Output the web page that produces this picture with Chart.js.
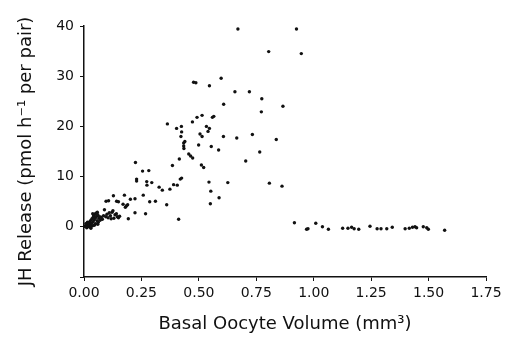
<!DOCTYPE html>
<html>
<head>
<meta charset="utf-8">
<script src="https://cdn.jsdelivr.net/npm/chart.js@4"></script>
<style>
  html, body { margin: 0; padding: 0; background: #fff; }
  #wrap { width: 508px; height: 337px; }
</style>
</head>
<body>
<div id="wrap"><canvas id="chart" width="508" height="337"></canvas></div>
<script>
// Basal oocyte volume (mm3) vs JH release
const volume = [
    // dense cluster near origin
    0.005, 0.010, 0.012, 0.015, 0.018, 0.020, 0.022, 0.025, 0.027, 0.030, 0.030, 0.033, 0.035, 0.037,
    0.040, 0.040, 0.042, 0.045, 0.047, 0.050, 0.050, 0.052, 0.055, 0.057, 0.060, 0.062, 0.065, 0.068,
    0.070, 0.075, 0.080, 0.085, 0.010, 0.020, 0.030, 0.015, 0.045, 0.060, 0.008, 0.038, 0.058,
    // low rising part
    0.089, 0.095, 0.100, 0.105, 0.110, 0.115, 0.118, 0.122, 0.126, 0.130, 0.135, 0.141, 0.145, 0.150, 0.155,
    0.096, 0.107, 0.128, 0.142, 0.150, 0.176, 0.170, 0.180, 0.185, 0.190, 0.193, 0.202, 0.222, 0.222, 0.224,
    0.229, 0.229, 0.255, 0.258, 0.268, 0.273, 0.274, 0.282, 0.286, 0.295, 0.311, 0.327, 0.341, 0.360,
    0.363, 0.374, 0.385, 0.390, 0.403, 0.406, 0.412, 0.415, 0.419, 0.422, 0.424, 0.425, 0.425,
    0.434, 0.434, 0.435, 0.439, 0.456, 0.464, 0.473, 0.472, 0.477, 0.487, 0.492, 0.499, 0.505,
    0.511, 0.514, 0.514, 0.521, 0.533, 0.540, 0.544, 0.546, 0.546, 0.550, 0.552, 0.554, 0.559, 0.565,
    0.586, 0.588, 0.597, 0.607, 0.608, 0.626, 0.657, 0.665, 0.670, 0.704, 0.720, 0.733, 0.765,
    0.772, 0.774, 0.804, 0.807, 0.837, 0.862, 0.866, 0.925, 0.946,
    // flat tail
    0.916, 0.969, 0.975, 1.009, 1.038, 1.064, 1.126, 1.149, 1.165, 1.176, 1.196, 1.245, 1.276, 1.293,
    1.318, 1.342, 1.398, 1.416, 1.430, 1.441, 1.448, 1.477, 1.492, 1.499, 1.570
];
const jhRelease = [
    0.1, 0.3, -0.2, 0.5, 0.2, 0.8, 0.0, 1.0, 0.4, 1.3, -0.3, 0.7, 1.6, 0.2,
    1.9, 1.0, 2.2, 1.4, 2.5, 0.6, 1.8, 2.7, 2.1, 1.2, 2.4, 0.9, 1.7, 2.0,
    1.3, 1.9, 1.5, 2.2, 0.0, 0.4, 0.0, 0.9, 0.3, 0.5, 0.6, 2.6, 2.9,
    3.4, 2.0, 2.5, 1.8, 2.8, 2.2, 1.6, 2.9, 3.2, 1.7, 2.4, 2.6, 2.0, 1.8, 2.1,
    5.1, 5.2, 6.2, 5.1, 5.0, 6.3, 4.5, 3.9, 4.2, 4.4, 1.6, 5.5, 5.6, 2.8, 12.8,
    9.5, 9.1, 11.1, 6.3, 2.6, 9.0, 8.3, 11.2, 5.0, 8.8, 5.1, 7.9, 7.3, 4.4,
    20.5, 7.5, 12.2, 8.4, 19.6, 8.3, 1.5, 13.5, 9.5, 18.0, 20.0, 18.9, 9.7,
    16.7, 16.1, 15.6, 17.0, 14.5, 14.1, 13.7, 20.9, 28.8, 28.7, 21.8, 16.3, 18.5,
    12.3, 22.2, 18.0, 11.8, 20.0, 19.0, 8.9, 19.6, 28.1, 4.6, 7.1, 16.0, 21.8, 22.0,
    15.3, 5.8, 29.6, 18.0, 24.4, 8.8, 26.9, 17.7, 39.4, 13.1, 26.9, 18.4, 14.9,
    22.9, 25.5, 34.9, 8.7, 17.4, 8.1, 24.0, 39.4, 34.5,
    0.8, -0.5, -0.4, 0.7, 0.0, -0.5, -0.3, -0.3, -0.1, -0.4, -0.5, 0.1, -0.4, -0.4,
    -0.4, -0.1, -0.4, -0.3, -0.1, 0.0, -0.2, 0.0, -0.2, -0.5, -0.7
];
const xTicks = [0, 0.25, 0.5, 0.75, 1, 1.25, 1.5, 1.75];
const yTicks = [-10, 0, 10, 20, 30, 40];

const points = volume.map((v, i) => ({ x: v, y: jhRelease[i] }));
const family = "'DejaVu Sans', Verdana, sans-serif";

new Chart(document.getElementById('chart'), {
    type: 'scatter',
    data: {
        datasets: [{
            data: points,
            pointRadius: 1.7,
            pointHoverRadius: 1.7,
            pointBackgroundColor: '#111',
            pointBorderWidth: 0
        }]
    },
    options: {
        responsive: false,
        animation: false,
        layout: { padding: { left: 0, top: 26, right: 22, bottom: 0 } },
        plugins: { legend: { display: false }, tooltip: { enabled: false } },
        scales: {
            x: {
                type: 'linear',
                min: xTicks[0],
                max: xTicks[xTicks.length - 1],
                afterBuildTicks: axis => { axis.ticks = xTicks.map(v => ({ value: v })); },
                border: { color: '#111', width: 1.5 },
                grid: { drawOnChartArea: false, color: '#111', tickLength: 4 },
                ticks: {
                    color: '#111',
                    font: { family: family, size: 14 },
                    padding: 4,
                    maxRotation: 0,
                    callback: value => value.toFixed(2)
                },
                title: {
                    display: true,
                    text: 'Basal Oocyte Volume (mm³)',
                    color: '#111',
                    font: { family: family, size: 18 },
                    padding: { top: 6, bottom: 2 }
                },
                afterFit: axis => { axis.height = 60; }
            },
            y: {
                type: 'linear',
                min: yTicks[0],
                max: yTicks[yTicks.length - 1],
                afterBuildTicks: axis => { axis.ticks = yTicks.map(v => ({ value: v })); },
                border: { color: '#111', width: 1.5 },
                grid: { drawOnChartArea: false, color: '#111', tickLength: 4 },
                ticks: {
                    color: '#111',
                    font: { family: family, size: 14 },
                    padding: 6,
                    callback: value => (value < 0 ? '' : value)
                },
                title: {
                    display: true,
                    text: 'JH Release (pmol h⁻¹ per pair)',
                    color: '#111',
                    font: { family: family, size: 18 },
                    padding: { top: 16, bottom: 4 }
                },
                afterFit: axis => { axis.width = 84; }
            }
        }
    }
});
</script>
</body>
</html>
